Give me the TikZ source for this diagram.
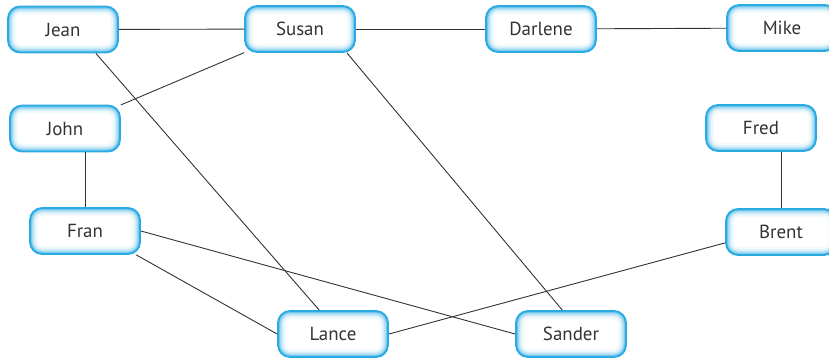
\documentclass[tikz,border=0pt]{standalone}
\usepackage{fontspec}
\setsansfont{PT Sans}
\definecolor{boxblue}{HTML}{2AAAE2}
\definecolor{inkgray}{HTML}{333333}

\begin{document}
\begin{tikzpicture}[
  x=1bp, y=-1bp,
  person/.style={draw=boxblue, line width=1.8bp, rounded corners=12bp, fill=white,
                 minimum width=110bp, minimum height=46bp, text=inkgray,
                 font=\sffamily\fontsize{19}{22}\selectfont,
                 path picture={
                   \foreach \w/\c in {16/5, 13/10, 10.5/18, 8.5/28, 6.5/40, 4.5/55, 3/72}
                     \draw[boxblue!\c, line width=\w bp, rounded corners=12bp]
                       (path picture bounding box.south west) rectangle (path picture bounding box.north east);
                 }},
  link/.style={draw=inkgray, line width=0.9bp}
]
\useasboundingbox (0,0) rectangle (829,360);
\clip (0,0) rectangle (829,360);

\node[person] (jean) at (63,29.5) {Jean};
\node[person] (susan) at (300,29) {Susan};
\node[person] (darlene) at (541,29) {Darlene};
\node[person] (mike) at (782,28) {Mike};
\node[person] (john) at (65,128.5) {John};
\node[person] (fred) at (761,128) {Fred};
\node[person] (fran) at (85,231) {Fran};
\node[person] (brent) at (781,232) {Brent};
\node[person] (lance) at (333,334) {Lance};
\node[person] (sander) at (571,334) {Sander};

\draw[link] (jean) -- (susan);
\draw[link] (susan) -- (darlene);
\draw[link] (darlene) -- (mike);
\draw[link] (susan) -- (john);
\draw[link] (jean.-36) -- (lance.120);
\draw[link] (susan.-27) -- (sander.110);
\draw[link] (fran.north) -- (fran.north |- john.south);
\draw[link] (brent.north) -- (brent.north |- fred.south);
\draw[link] (fran.-25) -- (lance.west);
\draw[link] (fran.east) -- (sander.west);
\draw[link] (brent.191) -- (lance.east);
\end{tikzpicture}
\end{document}
